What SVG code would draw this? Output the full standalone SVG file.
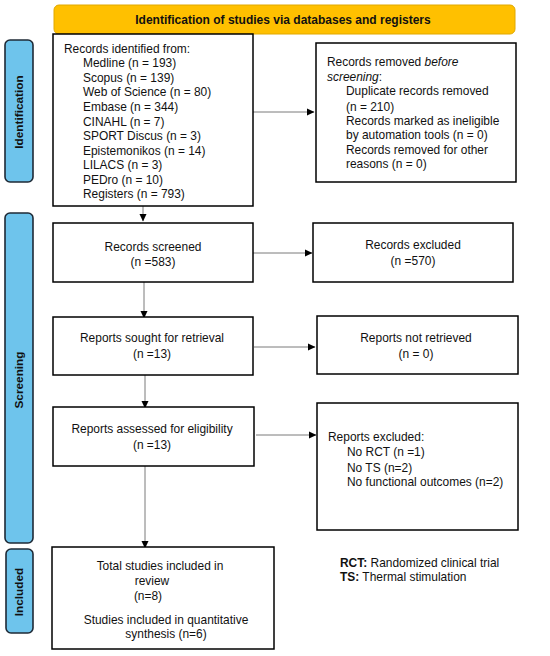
<svg xmlns="http://www.w3.org/2000/svg" width="550" height="656" viewBox="0 0 550 656">
<style>
text{font-family:"Liberation Sans",Arial,sans-serif;font-size:11.95px;fill:#111}
.box{fill:#fff;stroke:#000;stroke-width:1.5}
.side{fill:#6EC4EC;stroke:#1F2A36;stroke-width:1.6}
.sl{font-weight:bold;font-size:11.8px;text-anchor:middle}
.c{text-anchor:middle}
.con{stroke:#7a7a7a;stroke-width:1;fill:none}
</style>
<defs>
<marker id="ah" markerWidth="8" markerHeight="8" refX="7" refY="4" orient="auto" markerUnits="userSpaceOnUse">
<path d="M0,0.5 L7.5,4 L0,7.5 Z" fill="#000"/>
</marker>
</defs>
<rect width="550" height="656" fill="#fff"/>
<g id="banner">
<rect x="54" y="5" width="461" height="29" rx="5" fill="#FFC000" stroke="#E0A800" stroke-width="1"/>
<text x="283" y="23.5" class="c" style="font-weight:bold;font-size:12px">Identification of studies via databases and registers</text>
</g>
<g id="side-identification">
<rect x="5" y="40" width="28" height="142" rx="5" class="side"/>
<text class="sl" transform="translate(23,112) rotate(-90)">Identification</text>
</g>
<g id="side-screening">
<rect x="5" y="213" width="28" height="330" rx="5" class="side"/>
<text class="sl" transform="translate(23,380) rotate(-90)">Screening</text>
</g>
<g id="side-included">
<rect x="6" y="549" width="27" height="84" rx="5" class="side"/>
<text class="sl" transform="translate(23,592) rotate(-90)">Included</text>
</g>
<g id="connectors">
<line x1="253" y1="112" x2="314" y2="112" class="con" marker-end="url(#ah)"/>
<line x1="143" y1="206" x2="143" y2="221" class="con" marker-end="url(#ah)"/>
<line x1="253" y1="253" x2="312" y2="253" class="con" marker-end="url(#ah)"/>
<line x1="144" y1="282" x2="144" y2="318" class="con" marker-end="url(#ah)"/>
<line x1="254" y1="347" x2="315" y2="347" class="con" marker-end="url(#ah)"/>
<line x1="145" y1="375" x2="145" y2="408" class="con" marker-end="url(#ah)"/>
<line x1="256" y1="435" x2="316" y2="435" class="con" marker-end="url(#ah)"/>
<line x1="145" y1="466" x2="145" y2="548" class="con" marker-end="url(#ah)"/>
</g>
<g id="records-identified">
<rect x="53" y="34" width="200" height="172" class="box"/>
<text x="64" y="52.5">Records identified from:</text>
<text x="83" y="67">Medline (n = 193)</text>
<text x="83" y="81.5">Scopus (n = 139)</text>
<text x="83" y="96">Web of Science (n = 80)</text>
<text x="83" y="111">Embase (n = 344)</text>
<text x="83" y="125.5">CINAHL (n = 7)</text>
<text x="83" y="140">SPORT Discus (n = 3)</text>
<text x="83" y="154.5">Epistemonikos (n = 14)</text>
<text x="83" y="169">LILACS (n = 3)</text>
<text x="83" y="183.5">PEDro (n = 10)</text>
<text x="83" y="198">Registers (n = 793)</text>
</g>
<g id="records-removed">
<rect x="316" y="43" width="200" height="139" class="box"/>
<text x="327" y="66">Records removed <tspan font-style="italic">before</tspan></text>
<text x="327" y="81"><tspan font-style="italic">screening</tspan>:</text>
<text x="346" y="95">Duplicate records removed</text>
<text x="346" y="110.5">(n = 210)</text>
<text x="346" y="124.5">Records marked as ineligible</text>
<text x="346" y="139">by automation tools (n = 0)</text>
<text x="346" y="153.5">Records removed for other</text>
<text x="346" y="168">reasons (n = 0)</text>
</g>
<g id="records-screened">
<rect x="53" y="223" width="200" height="59" class="box"/>
<text x="153" y="251" class="c">Records screened</text>
<text x="153" y="266" class="c">(n =583)</text>
</g>
<g id="records-excluded">
<rect x="313" y="223" width="200" height="59" class="box"/>
<text x="413" y="249" class="c">Records excluded</text>
<text x="413" y="265" class="c">(n =570)</text>
</g>
<g id="reports-sought">
<rect x="53" y="317" width="200" height="58" class="box"/>
<text x="152" y="342" class="c">Reports sought for retrieval</text>
<text x="152" y="358" class="c">(n =13)</text>
</g>
<g id="reports-not-retrieved">
<rect x="317" y="316" width="201" height="58" class="box"/>
<text x="416" y="342" class="c">Reports not retrieved</text>
<text x="416" y="358" class="c">(n = 0)</text>
</g>
<g id="reports-assessed">
<rect x="53" y="407" width="201" height="59" class="box"/>
<text x="152" y="433" class="c">Reports assessed for eligibility</text>
<text x="152" y="449" class="c">(n =13)</text>
</g>
<g id="reports-excluded">
<rect x="317" y="403" width="201" height="127" class="box"/>
<text x="328" y="441">Reports excluded:</text>
<text x="347" y="456">No RCT (n =1)</text>
<text x="347" y="471.5">No TS (n=2)</text>
<text x="347" y="486">No functional outcomes (n=2)</text>
</g>
<g id="included">
<rect x="52" y="547" width="222" height="102" class="box"/>
<text x="160" y="570" class="c">Total studies included in</text>
<text x="152" y="585" class="c">review</text>
<text x="148" y="600" class="c">(n=8)</text>
<text x="166" y="624" class="c">Studies included in quantitative</text>
<text x="166" y="637.5" class="c">synthesis (n=6)</text>
</g>
<g id="legend">
<text x="340" y="567"><tspan font-weight="bold">RCT:</tspan> Randomized clinical trial</text>
<text x="340" y="581"><tspan font-weight="bold">TS:</tspan> Thermal stimulation</text>
</g>
</svg>
